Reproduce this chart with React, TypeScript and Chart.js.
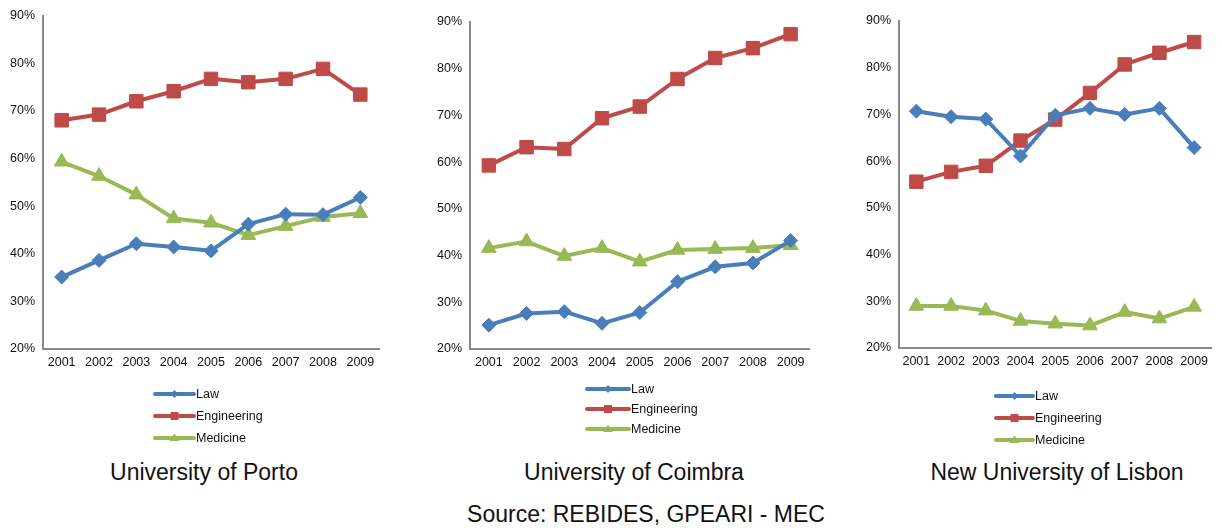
import React, { useEffect, useRef } from "react";
import { Chart, registerables } from "chart.js";

Chart.register(...registerables);

// ---------- data ----------
const years = ["2001", "2002", "2003", "2004", "2005", "2006", "2007", "2008", "2009"];
const seriesNames = ["Law", "Engineering", "Medicine"];
const yTickValues = [20, 30, 40, 50, 60, 70, 80, 90];

const portoLaw = [35.1, 38.6, 42.1, 41.4, 40.6, 46.2, 48.3, 48.2, 51.8];
const portoEng = [68.0, 69.2, 72.0, 74.1, 76.7, 76.0, 76.7, 78.8, 73.4];
const portoMed = [59.3, 56.3, 52.4, 47.4, 46.5, 43.9, 45.8, 47.7, 48.5];

const coimbraLaw = [25.1, 27.6, 28.0, 25.5, 27.8, 34.4, 37.6, 38.4, 43.2];
const coimbraEng = [59.3, 63.2, 62.8, 69.4, 71.9, 77.8, 82.3, 84.4, 87.4];
const coimbraMed = [41.6, 43.0, 39.9, 41.6, 38.7, 41.2, 41.4, 41.6, 42.2];

const lisbonLaw = [70.7, 69.5, 69.0, 61.1, 69.8, 71.3, 70.0, 71.3, 62.9];
const lisbonEng = [55.6, 57.7, 59.0, 64.4, 68.9, 74.6, 80.7, 83.2, 85.5];
const lisbonMed = [29.0, 29.0, 28.0, 25.8, 25.2, 24.8, 27.7, 26.3, 28.8];

const panelTitles = ["University of Porto", "University of Coimbra", "New University of Lisbon"];
const sourceText = "Source: REBIDES, GPEARI - MEC";

// ---------- styles ----------
const FONT = '"Liberation Sans", Arial, Helvetica, sans-serif';
const colors = ["#4A7EBB", "#BE4B48", "#98B954"];
const pointStyles = ["rectRot", "rect", "triangle"];
const pointRadii = [7, 9.5, 8.5];

type PanelCfg = {
  values: number[][];
  left: number;
  width: number;
  axisWidth: number;
  top: number;
  bottom: number;
  rightPad: number;
  legendX0: number;
  legendX1: number;
  legendYs: number[];
};

const CANVAS_H = 450;
const XAXIS_H = 30;

const panels: PanelCfg[] = [
  {
    values: [portoLaw, portoEng, portoMed],
    left: 0, width: 400, axisWidth: 43, top: 15, bottom: 349, rightPad: 21,
    legendX0: 155, legendX1: 194, legendYs: [394, 416, 438],
  },
  {
    values: [coimbraLaw, coimbraEng, coimbraMed],
    left: 400, width: 420, axisWidth: 70, top: 22, bottom: 349, rightPad: 10,
    legendX0: 187, legendX1: 229, legendYs: [389, 409, 429],
  },
  {
    values: [lisbonLaw, lisbonEng, lisbonMed],
    left: 820, width: 402, axisWidth: 79, top: 21, bottom: 348, rightPad: 4,
    legendX0: 176, legendX1: 213, legendYs: [396, 418, 440],
  },
];

function drawMarker(ctx: CanvasRenderingContext2D, kind: string, x: number, y: number, r: number) {
  ctx.beginPath();
  if (kind === "rectRot") {
    ctx.moveTo(x, y - r);
    ctx.lineTo(x + r, y);
    ctx.lineTo(x, y + r);
    ctx.lineTo(x - r, y);
  } else if (kind === "rect") {
    ctx.rect(x - r, y - r, 2 * r, 2 * r);
  } else {
    const h = r * 1.5;
    ctx.moveTo(x, y - h * 0.6);
    ctx.lineTo(x + r, y + h * 0.4);
    ctx.lineTo(x - r, y + h * 0.4);
  }
  ctx.closePath();
  ctx.fill();
}

const legendPlugin = {
  id: "sideLegend",
  afterDraw(chart: any, _args: any, opts: any) {
    const ctx: CanvasRenderingContext2D = chart.ctx;
    ctx.save();
    chart.data.datasets.forEach((ds: any, i: number) => {
      const y = opts.ys[i];
      ctx.strokeStyle = ds.borderColor;
      ctx.fillStyle = ds.borderColor;
      ctx.lineWidth = 4;
      ctx.lineCap = "round";
      ctx.beginPath();
      ctx.moveTo(opts.x0, y);
      ctx.lineTo(opts.x1, y);
      ctx.stroke();
      const mid = (opts.x0 + opts.x1) / 2;
      drawMarker(ctx, pointStyles[i], mid, y, [4, 4, 5][i]);
      ctx.fillStyle = "#111";
      ctx.font = `12.5px ${FONT}`;
      ctx.textBaseline = "middle";
      ctx.textAlign = "left";
      ctx.fillText(ds.label, opts.x1 + 2, y + 0.5);
    });
    ctx.restore();
  },
};

function Panel({ cfg }: { cfg: PanelCfg }) {
  const ref = useRef<HTMLCanvasElement>(null);
  useEffect(() => {
    const chart = new Chart(ref.current as HTMLCanvasElement, {
      type: "line",
      data: {
        labels: years,
        datasets: cfg.values.map((vals, i) => ({
          label: seriesNames[i],
          data: vals,
          borderColor: colors[i],
          backgroundColor: colors[i],
          borderWidth: 4,
          tension: 0,
          borderCapStyle: "round",
          borderJoinStyle: "round",
          pointStyle: pointStyles[i] as any,
          pointRadius: pointRadii[i],
          pointBorderWidth: 1,
          pointBorderColor: colors[i],
          pointBackgroundColor: colors[i],
        })),
      },
      options: {
        responsive: false,
        animation: false,
        events: [],
        layout: {
          padding: {
            left: 0,
            top: cfg.top,
            right: cfg.rightPad,
            bottom: CANVAS_H - cfg.bottom - XAXIS_H,
          },
        },
        plugins: {
          legend: { display: false },
          tooltip: { enabled: false },
          title: { display: false },
          sideLegend: { x0: cfg.legendX0, x1: cfg.legendX1, ys: cfg.legendYs },
        } as any,
        scales: {
          x: {
            offset: true,
            grid: { display: false, drawTicks: false },
            border: { display: true, color: "#8a8a8a", width: 2 },
            ticks: {
              color: "#111",
              padding: 6,
              maxRotation: 0,
              autoSkip: false,
              font: { family: FONT, size: 12.5 },
            },
            afterFit: (scale: any) => {
              scale.height = XAXIS_H;
            },
          },
          y: {
            min: yTickValues[0],
            max: yTickValues[yTickValues.length - 1],
            grid: { display: false, drawTicks: false },
            border: { display: true, color: "#8a8a8a", width: 2 },
            afterBuildTicks: (scale: any) => {
              scale.ticks = yTickValues.map((v) => ({ value: v }));
            },
            ticks: {
              color: "#111",
              padding: 8,
              font: { family: FONT, size: 12.5 },
              callback: (v: any) => `${v}%`,
            },
            afterFit: (scale: any) => {
              scale.width = cfg.axisWidth;
            },
          },
        },
      },
      plugins: [legendPlugin],
    });
    return () => chart.destroy();
  }, [cfg]);
  return (
    <canvas
      ref={ref}
      width={cfg.width}
      height={CANVAS_H}
      style={{ position: "absolute", left: cfg.left, top: 0, width: cfg.width, height: CANVAS_H }}
    />
  );
}

const titleCenters = [204, 634, 1057];

export default function App() {
  return (
    <div
      style={{
        position: "absolute",
        left: 0,
        top: 0,
        width: 1222,
        height: 528,
        background: "#fff",
        overflow: "hidden",
        fontFamily: FONT,
      }}
    >
      {panels.map((p, i) => (
        <Panel key={i} cfg={p} />
      ))}
      {panelTitles.map((t, i) => (
        <div
          key={t}
          style={{
            position: "absolute",
            left: titleCenters[i] - 200,
            width: 400,
            top: 458,
            textAlign: "center",
            fontSize: 23,
            lineHeight: "28px",
            color: "#111",
          }}
        >
          {t}
        </div>
      ))}
      <div
        style={{
          position: "absolute",
          left: 646 - 300,
          width: 600,
          top: 500,
          textAlign: "center",
          fontSize: 23,
          lineHeight: "28px",
          color: "#111",
        }}
      >
        {sourceText}
      </div>
    </div>
  );
}
